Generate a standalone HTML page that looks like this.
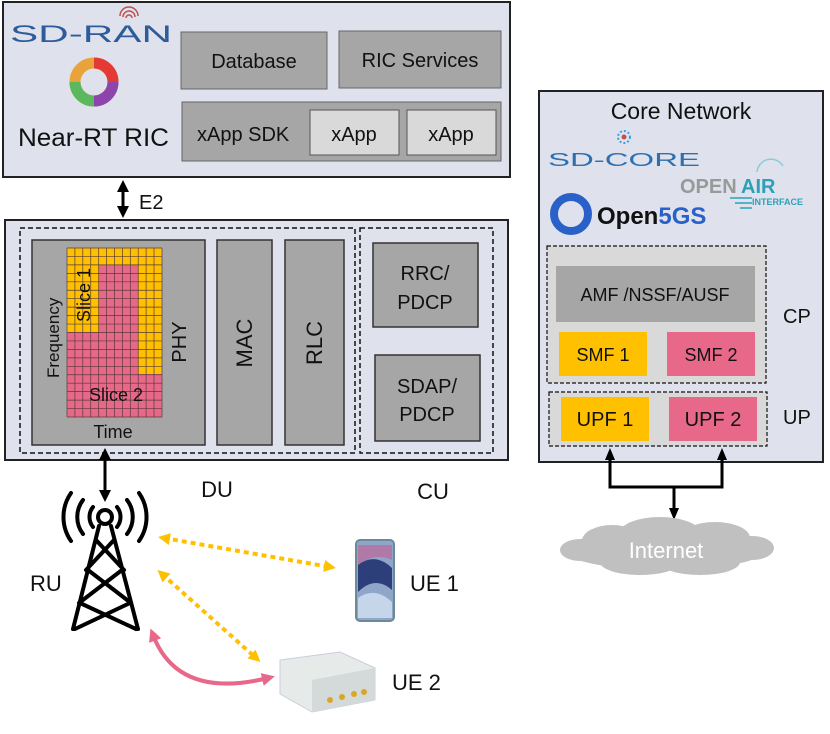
<!DOCTYPE html>
<html><head><meta charset="utf-8"><style>
html,body{margin:0;padding:0;background:#fff}
svg{display:block;font-family:"Liberation Sans",sans-serif}
</style></head><body>
<svg width="830" height="734" viewBox="0 0 830 734" xmlns="http://www.w3.org/2000/svg">
<defs>
<marker id="ab" markerWidth="12" markerHeight="12" refX="6" refY="6" orient="auto-start-reverse" markerUnits="userSpaceOnUse" viewBox="0 0 12 12"><path d="M0,0 L12,6 L0,12 z" fill="#000"/></marker>
<marker id="ay" markerWidth="12" markerHeight="12" refX="6" refY="6" orient="auto-start-reverse" markerUnits="userSpaceOnUse" viewBox="0 0 12 12"><path d="M0,0 L12,6 L0,12 z" fill="#ffc000"/></marker>
<marker id="ap" markerWidth="13" markerHeight="13" refX="6" refY="6.5" orient="auto-start-reverse" markerUnits="userSpaceOnUse" viewBox="0 0 13 13"><path d="M0,0 L13,6.5 L0,13 z" fill="#e8688a"/></marker>
<marker id="ak" markerWidth="12" markerHeight="12" refX="6" refY="6" orient="auto-start-reverse" markerUnits="userSpaceOnUse" viewBox="0 0 12 12"><path d="M0,1 L12,6 L0,11 z" fill="#000"/></marker>
</defs>

<!-- RIC -->
<rect x="3" y="2" width="507" height="175" fill="#dfe2ec" stroke="#222" stroke-width="2"/>
<text x="10" y="42" font-size="24" fill="#2e5b9a" textLength="162" lengthAdjust="spacingAndGlyphs">SD-RAN</text>
<path d="M120,16 a9,9 0 0 1 18,0 M123,17 a6,6 0 0 1 12,0 M126,18 a3,3 0 0 1 6,0" fill="none" stroke="#c0504d" stroke-width="1.5"/>
<circle cx="94" cy="82" r="19" fill="none" stroke="#e8a33a" stroke-width="11"/>
<path d="M94,63 a19,19 0 0 1 19,19" fill="none" stroke="#e53935" stroke-width="11"/>
<path d="M113,82 a19,19 0 0 1 -19,19" fill="none" stroke="#8e44ad" stroke-width="11"/>
<path d="M94,101 a19,19 0 0 1 -19,-19" fill="none" stroke="#5cb85c" stroke-width="11"/>
<text x="18" y="146" font-size="25" fill="#111" textLength="151" lengthAdjust="spacingAndGlyphs">Near-RT RIC</text>
<rect x="181" y="32" width="146" height="57" fill="#a6a6a6" stroke="#666"/>
<text x="254" y="68" font-size="20" text-anchor="middle" fill="#111">Database</text>
<rect x="339" y="31" width="162" height="57" fill="#a6a6a6" stroke="#666"/>
<text x="420" y="67" font-size="20" text-anchor="middle" fill="#111">RIC Services</text>
<rect x="182" y="102" width="319" height="59" fill="#a6a6a6" stroke="#666"/>
<text x="197" y="141" font-size="20" fill="#111">xApp SDK</text>
<rect x="310" y="110" width="89" height="45" fill="#d9d9d9" stroke="#555"/>
<text x="354" y="141" font-size="20" text-anchor="middle" fill="#111">xApp</text>
<rect x="407" y="110" width="89" height="45" fill="#d9d9d9" stroke="#555"/>
<text x="451" y="141" font-size="20" text-anchor="middle" fill="#111">xApp</text>

<!-- E2 -->
<line x1="123" y1="186" x2="123" y2="212" stroke="#000" stroke-width="3" marker-start="url(#ab)" marker-end="url(#ab)"/>
<text x="139" y="209" font-size="20" fill="#111">E2</text>

<!-- DU/CU -->
<rect x="5" y="220" width="503" height="240" fill="#dfe2ec" stroke="#222" stroke-width="2"/>
<rect x="20" y="228" width="335" height="225" fill="none" stroke="#111" stroke-width="1.5" stroke-dasharray="5,3"/>
<rect x="360" y="228" width="133" height="225" fill="none" stroke="#111" stroke-width="1.5" stroke-dasharray="5,3"/>
<rect x="32" y="240" width="173" height="205" fill="#a6a6a6" stroke="#333" stroke-width="1.5"/>
<rect x="67" y="248" width="95" height="169" fill="#e8688a"/>
<rect x="67" y="248" width="95" height="17" fill="#ffc000"/>
<rect x="67" y="248" width="31.7" height="84" fill="#ffc000"/>
<rect x="138" y="248" width="24" height="126" fill="#ffc000"/>
<g stroke="#5a3a3a" stroke-width="0.7">
<path d="M67,248H162M67,256.45H162M67,264.9H162M67,273.35H162M67,281.8H162M67,290.25H162M67,298.7H162M67,307.15H162M67,315.6H162M67,324.05H162M67,332.5H162M67,340.95H162M67,349.4H162M67,357.85H162M67,366.3H162M67,374.75H162M67,383.2H162M67,391.65H162M67,400.1H162M67,408.55H162M67,417H162"/>
<path d="M67,248V417M74.9,248V417M82.8,248V417M90.75,248V417M98.7,248V417M106.6,248V417M114.5,248V417M122.4,248V417M130.3,248V417M138.2,248V417M146.1,248V417M154,248V417M162,248V417"/>
</g>
<text transform="translate(90,322) rotate(-90)" font-size="18" fill="#111">Slice 1</text>
<text x="116" y="401" font-size="18" text-anchor="middle" fill="#111">Slice 2</text>
<text transform="translate(59,378) rotate(-90)" font-size="17" fill="#111">Frequency</text>
<text x="113" y="438" font-size="18" text-anchor="middle" fill="#111">Time</text>
<text transform="translate(186,342) rotate(-90)" font-size="20" text-anchor="middle" fill="#111">PHY</text>
<rect x="217" y="240" width="55" height="205" fill="#a6a6a6" stroke="#333" stroke-width="1.5"/>
<text transform="translate(252,343) rotate(-90)" font-size="22" text-anchor="middle" fill="#111">MAC</text>
<rect x="285" y="240" width="59" height="205" fill="#a6a6a6" stroke="#333" stroke-width="1.5"/>
<text transform="translate(322,343) rotate(-90)" font-size="22" text-anchor="middle" fill="#111">RLC</text>
<rect x="373" y="243" width="105" height="84" fill="#a6a6a6" stroke="#333" stroke-width="1.5"/>
<text x="425" y="280" font-size="20" text-anchor="middle" fill="#111">RRC/</text>
<text x="425" y="309" font-size="20" text-anchor="middle" fill="#111">PDCP</text>
<rect x="375" y="355" width="105" height="86" fill="#a6a6a6" stroke="#333" stroke-width="1.5"/>
<text x="427" y="393" font-size="20" text-anchor="middle" fill="#111">SDAP/</text>
<text x="427" y="421" font-size="20" text-anchor="middle" fill="#111">PDCP</text>
<text x="217" y="497" font-size="22" text-anchor="middle" fill="#111">DU</text>
<text x="433" y="499" font-size="22" text-anchor="middle" fill="#111">CU</text>

<!-- DU-RU arrow -->
<line x1="105" y1="454" x2="105" y2="496" stroke="#000" stroke-width="3" marker-start="url(#ab)" marker-end="url(#ab)"/>

<!-- Tower -->
<g fill="none" stroke="#000" stroke-width="4" stroke-linecap="round">
<circle cx="105" cy="517" r="7"/>
<path d="M99,526 L73,629 M111,526 L138,629 M96,540 L124,570 M114,540 L86,570 M88,570 L131,603 M122,570 L79,603 M80,603 L136,629 M130,603 L75,629"/>
<path d="M93,507 a16,16 0 0 0 0,20 M117,507 a16,16 0 0 1 0,20"/>
<path d="M83,500 a28,28 0 0 0 0,34 M127,500 a28,28 0 0 1 0,34"/>
<path d="M71,493 a42,42 0 0 0 0,48 M139,493 a42,42 0 0 1 0,48"/>
</g>
<text x="30" y="591" font-size="22" fill="#111">RU</text>

<!-- Radio links -->
<line x1="164" y1="538" x2="330" y2="567" stroke="#ffc000" stroke-width="4" stroke-dasharray="5,4" marker-start="url(#ay)" marker-end="url(#ay)"/>
<line x1="162" y1="574" x2="256" y2="658" stroke="#ffc000" stroke-width="4" stroke-dasharray="5,4" marker-start="url(#ay)" marker-end="url(#ay)"/>
<path d="M153,635 Q178,700 268,678" fill="none" stroke="#e8688a" stroke-width="4" marker-start="url(#ap)" marker-end="url(#ap)"/>

<!-- Phone -->
<rect x="356" y="540" width="38" height="81" rx="4" fill="#8fa6c8" stroke="#6a8a9a" stroke-width="2"/>
<path d="M358,545 L392,545 L392,560 Q375,552 358,565 z" fill="#b07aa8"/>
<path d="M358,565 Q375,552 392,568 L392,590 Q375,575 358,592 z" fill="#2d3f7a"/>
<path d="M358,598 Q375,586 392,602 L392,618 L358,618 z" fill="#c6d6ea"/>
<text x="410" y="591" font-size="22" fill="#111">UE 1</text>

<!-- USRP -->
<path d="M280,660 L340,652 L375,668 L375,700 L312,712 L280,694 z" fill="#e6ebea" stroke="#ccd" stroke-width="1"/>
<path d="M312,680 L375,668 L375,700 L312,712 z" fill="#d4dad9"/>
<circle cx="330" cy="700" r="3" fill="#d9a62a"/><circle cx="342" cy="697" r="3" fill="#d9a62a"/><circle cx="354" cy="694" r="3" fill="#d9a62a"/><circle cx="364" cy="692" r="3" fill="#d9a62a"/>
<text x="392" y="690" font-size="22" fill="#111">UE 2</text>

<!-- Core -->
<rect x="539" y="91" width="284" height="371" fill="#dfe2ec" stroke="#222" stroke-width="2"/>
<text x="681" y="119" font-size="23" text-anchor="middle" fill="#111">Core Network</text>
<circle cx="624" cy="137" r="6" fill="none" stroke="#3aa0e0" stroke-width="2" stroke-dasharray="2,2"/>
<circle cx="624" cy="137" r="2.5" fill="#c0504d"/>
<text x="548" y="166" font-size="18" fill="#2e6fb0" textLength="152" lengthAdjust="spacingAndGlyphs">SD-CORE</text>
<text x="680" y="193" font-size="20" font-weight="bold" fill="#999">OPEN</text>
<text x="741" y="193" font-size="20" font-weight="bold" fill="#2aa1b8">AIR</text>
<text x="752" y="205" font-size="9" font-weight="bold" fill="#2aa1b8">INTERFACE</text>
<path d="M730,198 H752 M735,203 H752 M740,208 H752" stroke="#2aa1b8" stroke-width="1.5"/>
<path d="M757,172 a14,14 0 0 1 26,-6" fill="none" stroke="#8ccbd8" stroke-width="1.5"/>
<circle cx="571" cy="214" r="17" fill="none" stroke="#2a61c8" stroke-width="8"/>
<text x="597" y="224" font-size="24" font-weight="bold" fill="#111">Open<tspan fill="#2a61c8">5GS</tspan></text>
<rect x="547" y="246" width="219" height="137" fill="#d9d9d9" stroke="#111" stroke-width="1.2" stroke-dasharray="4,2"/>
<rect x="556" y="266" width="199" height="56" fill="#a6a6a6"/>
<text x="655" y="301" font-size="18" text-anchor="middle" fill="#111">AMF /NSSF/AUSF</text>
<rect x="559" y="332" width="88" height="44" fill="#ffc000"/>
<text x="603" y="361" font-size="18" text-anchor="middle" fill="#111">SMF 1</text>
<rect x="667" y="332" width="88" height="44" fill="#e8688a"/>
<text x="711" y="361" font-size="18" text-anchor="middle" fill="#111">SMF 2</text>
<text x="783" y="323" font-size="20" fill="#111">CP</text>
<rect x="549" y="392" width="218" height="54" fill="#d9d9d9" stroke="#111" stroke-width="1.2" stroke-dasharray="4,2"/>
<rect x="561" y="397" width="88" height="44" fill="#ffc000"/>
<text x="605" y="426" font-size="20" text-anchor="middle" fill="#111">UPF 1</text>
<rect x="669" y="397" width="88" height="44" fill="#e8688a"/>
<text x="713" y="426" font-size="20" text-anchor="middle" fill="#111">UPF 2</text>
<text x="783" y="424" font-size="20" fill="#111">UP</text>
<path d="M610,454 V487 H722 V454" fill="none" stroke="#000" stroke-width="3" marker-start="url(#ak)" marker-end="url(#ak)"/>
<line x1="674" y1="487" x2="674" y2="514" stroke="#000" stroke-width="3" marker-end="url(#ak)"/>
<!-- cloud -->
<g fill="#c0c0c0">
<ellipse cx="665" cy="550" rx="100" ry="20"/>
<ellipse cx="612" cy="541" rx="30" ry="16"/>
<ellipse cx="660" cy="533" rx="40" ry="16"/>
<ellipse cx="715" cy="538" rx="35" ry="16"/>
<ellipse cx="640" cy="562" rx="40" ry="13"/>
<ellipse cx="700" cy="562" rx="40" ry="13"/>
<ellipse cx="752" cy="548" rx="22" ry="12"/>
<ellipse cx="580" cy="550" rx="20" ry="11"/>
</g>
<text x="666" y="558" font-size="22" text-anchor="middle" fill="#fff">Internet</text>
</svg>
</body></html>
